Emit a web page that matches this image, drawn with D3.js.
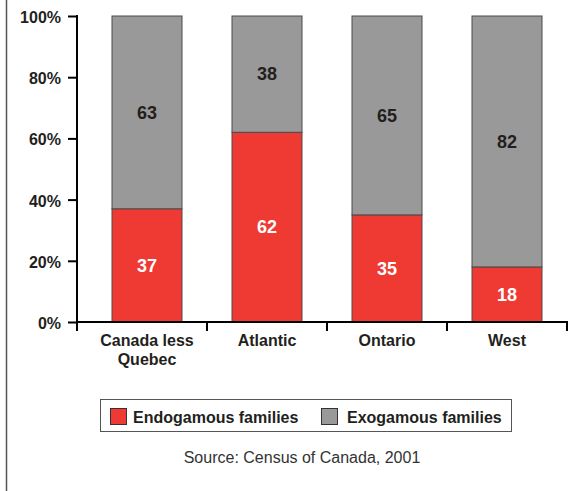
<!DOCTYPE html>
<html>
<head>
<meta charset="utf-8">
<script src="https://cdn.jsdelivr.net/npm/d3@7"></script>
<style>
  html, body { margin: 0; padding: 0; background: #fff; }
  svg { display: block; font-family: "Liberation Sans", Arial, sans-serif; }
</style>
</head>
<body>
<svg id="chart" width="578" height="491"></svg>
<script>
// Family composition by region (percent)
const regions = ["Canada less|Quebec", "Atlantic", "Ontario", "West"];
const endogamous = [37, 62, 35, 18];
const exogamous = [63, 38, 65, 82];
const yTicks = [0, 20, 40, 60, 80, 100];
const seriesNames = ["Endogamous families", "Exogamous families"];
const seriesColors = ["#ee3a32", "#999999"];
const sourceNote = "Source: Census of Canada, 2001";

const svg = d3.select("#chart");

// Frame line on the left edge
svg.append("line")
  .attr("x1", 6.5).attr("x2", 6.5).attr("y1", 0).attr("y2", 491)
  .attr("stroke", "#555").attr("stroke-width", 1.5);

const axisX = 77, plotLeft = 87, plotRight = 567, plotTop = 16, plotBottom = 322;

const x = d3.scaleBand().domain(regions).range([plotLeft, plotRight]).paddingInner(50 / 120).paddingOuter(25 / 120);
const y = d3.scaleLinear().domain([0, 100]).range([plotBottom, plotTop]);

const rows = regions.map((r, i) => ({ region: r, endo: endogamous[i], exo: exogamous[i] }));
const stack = d3.stack().keys(["endo", "exo"])(rows);

// Stacked bars
stack.forEach((layer, li) => {
  svg.append("g").selectAll("rect").data(layer).join("rect")
    .attr("x", d => x(d.data.region))
    .attr("width", x.bandwidth())
    .attr("y", d => y(d[1]))
    .attr("height", d => y(d[0]) - y(d[1]))
    .attr("fill", seriesColors[li])
    .attr("stroke", "#4a4a4a")
    .attr("stroke-width", 1);
});

// Value labels centred in each segment
stack.forEach((layer, li) => {
  svg.append("g").selectAll("text").data(layer).join("text")
    .attr("x", d => x(d.data.region) + x.bandwidth() / 2)
    .attr("y", d => (y(d[0]) + y(d[1])) / 2)
    .attr("dy", "0.35em")
    .attr("text-anchor", "middle")
    .attr("font-size", 18).attr("font-weight", "bold")
    .attr("fill", li === 0 ? "#ffffff" : "#231f20")
    .text(d => d[1] - d[0]);
});

// Y axis
const yAxis = d3.axisLeft(y).tickValues(yTicks).tickFormat(d => d + "%").tickSize(9).tickPadding(7);
const gy = svg.append("g").attr("transform", `translate(${axisX},0)`).call(yAxis);
gy.select(".domain").remove();
gy.append("line").attr("x1", 0).attr("x2", 0).attr("y1", plotTop - 1).attr("y2", plotBottom + 9)
  .attr("stroke", "#000").attr("stroke-width", 2);
gy.selectAll(".tick line").attr("stroke", "#000").attr("stroke-width", 2);
gy.selectAll(".tick text").attr("font-size", 16).attr("font-weight", "bold").attr("fill", "#231f20")
  .attr("font-family", "Liberation Sans, Arial, sans-serif").attr("dy", "0.4em");

// X axis baseline with tick marks at category boundaries
svg.append("line").attr("x1", axisX).attr("x2", plotRight + 1).attr("y1", plotBottom).attr("y2", plotBottom)
  .attr("stroke", "#000").attr("stroke-width", 2);
const step = x.step();
const boundaries = regions.map((r, i) => x(r) - x.paddingOuter() * step + (i + 1) * 0 + step);
svg.append("g").selectAll("line").data(regions).join("line")
  .attr("x1", d => x(d) + x.bandwidth() / 2 + step / 2)
  .attr("x2", d => x(d) + x.bandwidth() / 2 + step / 2)
  .attr("y1", plotBottom).attr("y2", plotBottom + 9)
  .attr("stroke", "#000").attr("stroke-width", 2);

// Category labels (may wrap on "|")
const cat = svg.append("g").selectAll("text").data(regions).join("text")
  .attr("x", d => x(d) + x.bandwidth() / 2)
  .attr("y", 346)
  .attr("text-anchor", "middle")
  .attr("font-size", 16).attr("font-weight", "bold").attr("fill", "#231f20");
cat.each(function (d) {
  const parts = d.split("|");
  d3.select(this).selectAll("tspan").data(parts).join("tspan")
    .attr("x", x(d) + x.bandwidth() / 2)
    .attr("dy", (p, i) => i === 0 ? 0 : 18.5)
    .text(p => p);
});

// Legend
svg.append("rect").attr("x", 100.5).attr("y", 399.5).attr("width", 411).attr("height", 32)
  .attr("fill", "#fff").attr("stroke", "#555").attr("stroke-width", 1);
const legendX = [110, 321];
const lg = svg.append("g").selectAll("g").data(seriesNames).join("g")
  .attr("transform", (d, i) => `translate(${legendX[i]},0)`);
lg.append("rect").attr("x", 0.5).attr("y", 408.5).attr("width", 16).attr("height", 16)
  .attr("fill", (d, i) => seriesColors[i]).attr("stroke", "#333").attr("stroke-width", 1);
lg.append("text").attr("x", (d, i) => i === 0 ? 23 : 26).attr("y", 423)
  .attr("font-size", 16).attr("font-weight", "bold").attr("fill", "#231f20")
  .text(d => d);

// Source note
svg.append("text").attr("x", 302).attr("y", 463).attr("text-anchor", "middle")
  .attr("font-size", 16).attr("fill", "#333").text(sourceNote);
</script>
</body>
</html>
